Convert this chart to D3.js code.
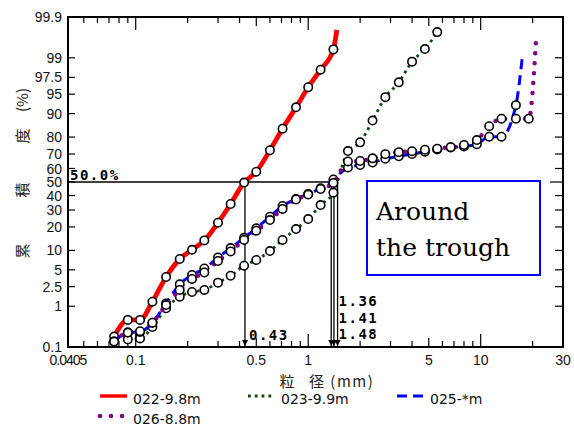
<!DOCTYPE html>
<html>
<head>
<meta charset="utf-8">
<script src="https://cdn.jsdelivr.net/npm/d3@7"></script>
<style>
  body { margin: 0; background: white; }
  .tick-label { font-family: "Liberation Sans", Arial, sans-serif; font-size: 14px; fill: #111; }
  .note { font-family: "DejaVu Sans Mono", monospace; font-weight: bold; font-size: 14px; letter-spacing: 1.5px; fill: #000; }
  .legend-text { font-family: "DejaVu Sans", sans-serif; font-size: 14px; fill: #111; }
  .cjk { font-family: "Noto Sans CJK JP", sans-serif; font-size: 15px; fill: #222; }
</style>
</head>
<body>
<div id="chart"></div>
<script>
// Grain size cumulative curves on probability paper

// sieve openings (mm)
var sieveSizes = [0.075, 0.090, 0.106, 0.125, 0.150, 0.180, 0.212, 0.250, 0.300, 0.355,
  0.425, 0.500, 0.600, 0.710, 0.850, 1.00, 1.18, 1.40, 1.70, 2.00, 2.36, 2.80, 3.35,
  4.00, 4.75, 5.60, 6.70, 8.00, 9.50, 11.2, 13.2, 16.0, 19.0];

// cumulative percent passing for each sample (null = no point)
var s022 = [0.19, 0.49, 0.49, 1.25, 3.76, 7.47, 10.2, 13.7, 22.3, 34.0, 49.6, 57.6, 72.4,
  84.1, 91.9, 96.2, 98.23, 99.35, null, null, null, null, null, null, null, null, null,
  null, null, null, null, null, null];
var s023 = [null, 0.16, 0.17, 0.33, 0.90, 1.59, 1.97, 2.16, 2.97, 3.96, 5.85, 7.2, 9.8,
  13.9, 18.9, 24.4, 33.3, 42.1, 71.9, 77.1, 87.5, 94.4, 96.9, 98.79, 99.36, 99.75, null,
  null, null, null, null, null, null];
var s025 = [0.14, 0.24, 0.25, 0.42, 1.15, 2.77, 4.08, 5.26, 7.87, 10.8, 14.8, 19.3, 25.8,
  32.7, 37.5, 41.1, 45.3, 51.9, 60.7, 62.5, 64.2, 66.8, 68.5, 70.0, 71.5, 72.9, 74.1,
  74.7, 76.0, 80.2, 80.2, 92.5, null];
var s026 = [0.14, 0.24, 0.26, 0.42, 1.06, 2.16, 3.47, 4.5, 6.95, 9.66, 13.9, 18.1, 23.8,
  30.7, 37.2, 40.7, 44.8, 49.3, 65.0, 65.3, 67.1, 69.9, 71.2, 71.8, 72.7, 73.4, 74.3,
  75.6, 78.4, 85.2, 88.2, 88.2, 88.2];

// curve ends without a marker [size, percent]
var tail022 = [1.465, 99.78];
var tail023 = null;
var tail025 = [17.4, 98.99];
var tail026 = [20.96, 99.65];

var seriesNames = ["022-9.8m", "023-9.9m", "025-*m", "026-8.8m"];

// median grain sizes
var d50Values = [0.43, 1.36, 1.41, 1.48];
var d50Labels = ["0.43", "1.36", "1.41", "1.48"];

// axes
var yTicks = [0.1, 1, 2.5, 5, 10, 20, 30, 40, 50, 60, 70, 80, 90, 95, 97.5, 99, 99.9];
var xTickLabels = [0.0405, 0.1, 0.5, 1, 5, 10, 30];
var xMin = 0.0405, xMax = 30;

// SVG attributes
var width = 574, height = 427;
var plotL = 68, plotR = 563, plotT = 17, plotB = 347;

var svg = d3.select("#chart")
  .append("svg")
  .attr("width", width)
  .attr("height", height)
  .style("background", "white");

// inverse normal cdf (Acklam)
function probit(p) {
  var a = [-3.969683028665376e+01, 2.209460984245205e+02, -2.759285104469687e+02, 1.383577518672690e+02, -3.066479806614716e+01, 2.506628277459239e+00];
  var b = [-5.447609879822406e+01, 1.615858368580409e+02, -1.556989798598866e+02, 6.680131188771972e+01, -1.328068155288572e+01];
  var c = [-7.784894002430293e-03, -3.223964580411365e-01, -2.400758277161838e+00, -2.549732539343734e+00, 4.374664141464968e+00, 2.938163982698783e+00];
  var d = [7.784695709041462e-03, 3.224671290700398e-01, 2.445134137142996e+00, 3.754408661907416e+00];
  var pl = 0.02425, q, r;
  if (p < pl) {
    q = Math.sqrt(-2 * Math.log(p));
    return (((((c[0]*q+c[1])*q+c[2])*q+c[3])*q+c[4])*q+c[5]) / ((((d[0]*q+d[1])*q+d[2])*q+d[3])*q+1);
  }
  if (p > 1 - pl) {
    q = Math.sqrt(-2 * Math.log(1 - p));
    return -(((((c[0]*q+c[1])*q+c[2])*q+c[3])*q+c[4])*q+c[5]) / ((((d[0]*q+d[1])*q+d[2])*q+d[3])*q+1);
  }
  q = p - 0.5; r = q * q;
  return (((((a[0]*r+a[1])*r+a[2])*r+a[3])*r+a[4])*r+a[5])*q / (((((b[0]*r+b[1])*r+b[2])*r+b[3])*r+b[4])*r+1);
}

// scales
var xScale = d3.scaleLog().domain([xMin, xMax]).range([plotL, plotR]);
var zScale = d3.scaleLinear().domain([probit(0.001), probit(0.999)]).range([plotB, plotT]);
function yScale(pct) { return zScale(probit(pct / 100)); }

// clip
var defs = svg.append("defs");
defs.append("clipPath").attr("id", "plotClip")
  .append("rect")
  .attr("x", plotL).attr("y", plotT)
  .attr("width", plotR - plotL).attr("height", plotB - plotT);

// arrow marker
defs.append("marker")
  .attr("id", "arrow")
  .attr("viewBox", "0 0 10 10")
  .attr("refX", 10).attr("refY", 5)
  .attr("markerWidth", 5).attr("markerHeight", 5)
  .attr("orient", "auto")
  .append("path")
  .attr("d", "M0,0L10,5L0,10Z")
  .attr("fill", "#000");

// x minor/major ticks (top and bottom, pointing inward)
var xTickVals = [];
[0.01, 0.1, 1, 10].forEach(function(dec) {
  for (var k = 1; k <= 9; k++) {
    var v = +(dec * k).toPrecision(3);
    if (v > xMin && v < xMax) xTickVals.push(v);
  }
});
function xTickLen(v) {
  if (v === 0.1 || v === 1 || v === 10) return 13;
  if (v === 0.5 || v === 5) return 9;
  return 6;
}
var xTicksG = svg.append("g").attr("class", "xTicks");
xTicksG.selectAll("line.bt").data(xTickVals).enter().append("line")
  .attr("x1", d => xScale(d)).attr("x2", d => xScale(d))
  .attr("y1", plotB).attr("y2", d => plotB - xTickLen(d))
  .attr("stroke", "#000").attr("stroke-width", 1.2);
xTicksG.selectAll("line.tp").data(xTickVals).enter().append("line")
  .attr("x1", d => xScale(d)).attr("x2", d => xScale(d))
  .attr("y1", plotT).attr("y2", d => plotT + xTickLen(d))
  .attr("stroke", "#000").attr("stroke-width", 1.2);

// y ticks left and right
var yInner = yTicks.filter(d => d > 0.1 && d < 99.9);
var yTicksG = svg.append("g").attr("class", "yTicks");
yTicksG.selectAll("line.l").data(yInner).enter().append("line")
  .attr("x1", plotL).attr("x2", plotL + 7)
  .attr("y1", d => yScale(d)).attr("y2", d => yScale(d))
  .attr("stroke", "#000").attr("stroke-width", 1.2);
yTicksG.selectAll("line.r").data(yInner).enter().append("line")
  .attr("x1", plotR).attr("x2", d => d === 50 ? plotR - 13 : plotR - 8)
  .attr("y1", d => yScale(d)).attr("y2", d => yScale(d))
  .attr("stroke", "#000").attr("stroke-width", 1.2);

// tick labels
svg.append("g").selectAll("text").data(yTicks).enter().append("text")
  .attr("class", "tick-label")
  .attr("x", 62)
  .attr("y", d => yScale(d))
  .attr("dy", "0.36em")
  .attr("text-anchor", "end")
  .text(d => d);

svg.append("g").selectAll("text").data(xTickLabels).enter().append("text")
  .attr("class", "tick-label")
  .attr("x", d => xScale(d))
  .attr("y", 365)
  .attr("text-anchor", "middle")
  .attr("letter-spacing", d => d === xMin ? "-1px" : null)
  .text(d => d);

// axis titles
var yTitle = [["累", 251], ["積", 190], ["度", 136], ["(%)", 100]];
svg.append("g").selectAll("text").data(yTitle).enter().append("text")
  .attr("class", "cjk")
  .attr("transform", d => `translate(23, ${d[1]}) rotate(-90)`)
  .attr("text-anchor", "middle")
  .attr("dy", "0.35em")
  .text(d => d[0]);

svg.append("text").attr("class", "cjk")
  .attr("x", 287).attr("y", 387).attr("text-anchor", "middle")
  .text("粒");
svg.append("text").attr("class", "cjk")
  .attr("x", 309).attr("y", 387)
  .attr("letter-spacing", "1.5px")
  .text("径 (mm)");

// 50% reference line and D50 drop lines
var y50 = yScale(50);
svg.append("line")
  .attr("x1", plotL).attr("x2", xScale(d3.max(d50Values)))
  .attr("y1", y50).attr("y2", y50)
  .attr("stroke", "#000").attr("stroke-width", 1.5);
svg.append("g").selectAll("line").data(d50Values).enter().append("line")
  .attr("x1", d => xScale(d)).attr("x2", d => xScale(d))
  .attr("y1", y50).attr("y2", plotB - 1)
  .attr("stroke", "#000").attr("stroke-width", 1.3)
  .attr("marker-end", "url(#arrow)");

svg.append("text").attr("class", "note")
  .attr("x", 70).attr("y", 180)
  .text("50.0%");
svg.append("g").selectAll("text").data(d50Labels).enter().append("text")
  .attr("class", "note")
  .attr("x", (d, i) => i === 0 ? xScale(d50Values[0]) + 4 : xScale(d3.max(d50Values)) + 1)
  .attr("y", (d, i) => [340, 306, 323, 339][i])
  .text(d => d);

// series
var seriesData = [s022, s023, s025, s026];
var seriesTails = [tail022, tail023, tail025, tail026];
var seriesStyle = [
  { color: "#ff0000", width: 4.8, dash: null, cap: "butt" },
  { color: "#0a4a0a", width: 2.8, dash: "2.8,4", cap: "butt" },
  { color: "#0000ff", width: 3, dash: "10,6", cap: "butt" },
  { color: "#800080", width: 4.5, dash: "0,10", cap: "round" }
];

var line = d3.line()
  .x(d => xScale(d[0]))
  .y(d => yScale(d[1]))
  .curve(d3.curveMonotoneX);

var plot = svg.append("g").attr("clip-path", "url(#plotClip)");

seriesData.forEach(function(vals, i) {
  var pts = [];
  vals.forEach(function(v, j) { if (v !== null) pts.push([sieveSizes[j], v]); });
  var linePts = seriesTails[i] ? pts.concat([seriesTails[i]]) : pts;
  var st = seriesStyle[i];
  plot.append("path")
    .datum(linePts)
    .attr("d", line)
    .attr("fill", "none")
    .attr("stroke", st.color)
    .attr("stroke-width", st.width)
    .attr("stroke-dasharray", st.dash)
    .attr("stroke-linecap", st.cap);
  plot.selectAll("circle.s" + i).data(pts).enter().append("circle")
    .attr("class", "s" + i)
    .attr("cx", d => xScale(d[0]))
    .attr("cy", d => yScale(d[1]))
    .attr("r", 4.2)
    .attr("fill", "white")
    .attr("stroke", "#000")
    .attr("stroke-width", 1.6);
});

// plot frame
svg.append("rect")
  .attr("x", plotL).attr("y", plotT)
  .attr("width", plotR - plotL).attr("height", plotB - plotT)
  .attr("fill", "none").attr("stroke", "#000").attr("stroke-width", 2);

// annotation box
svg.append("rect")
  .attr("x", 367).attr("y", 181)
  .attr("width", 173).attr("height", 94)
  .attr("fill", "white").attr("stroke", "#0000ff").attr("stroke-width", 2);
svg.append("text")
  .attr("x", 376).attr("y", 220)
  .style("font-family", "'DejaVu Serif', serif").style("font-size", "25px")
  .text("Around");
svg.append("text")
  .attr("x", 376).attr("y", 256)
  .style("font-family", "'DejaVu Serif', serif").style("font-size", "25px")
  .text("the trough");

// legend
var legendPos = [[100, 396], [248, 396], [397, 396], [100, 416]];
var legend = svg.append("g").attr("class", "legend");
seriesNames.forEach(function(name, i) {
  var st = seriesStyle[i];
  var p = legendPos[i];
  legend.append("line")
    .attr("x1", p[0]).attr("x2", p[0] + 27)
    .attr("y1", p[1]).attr("y2", p[1])
    .attr("stroke", st.color)
    .attr("stroke-width", i === 0 ? 3.5 : st.width)
    .attr("stroke-dasharray", st.dash === "0,10" ? "0,11" : st.dash)
    .attr("stroke-linecap", st.cap);
  legend.append("text")
    .attr("class", "legend-text")
    .attr("x", p[0] + 33).attr("y", p[1] + 8)
    .text(name);
});
</script>
</body>
</html>
